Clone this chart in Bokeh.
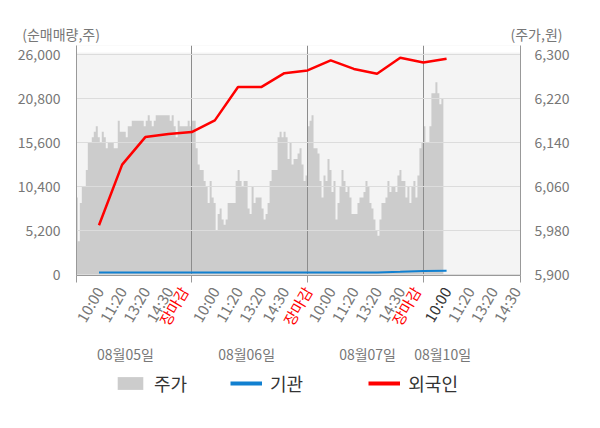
import numpy as np
from bokeh.plotting import figure
from bokeh.models import (Range1d, LinearAxis, FixedTicker, NumeralTickFormatter,
                          ColumnDataSource, LabelSet, Label, Legend, LegendItem,
                          BoxAnnotation, CustomJSTickFormatter)
from bokeh.embed import file_html
from bokeh.resources import INLINE
from bokeh.core.properties import value

FONT = "Noto Sans CJK KR"

# ---- data ----
price_day1 = [6040, 5960, 6030, 6060, 6060, 6090, 6140, 6140, 6150, 6160,
              6170, 6150, 6140, 6160, 6150, 6130, 6140, 6140, 6140, 6130,
              6130, 6180, 6160, 6160, 6160, 6150, 6170, 6170, 6180, 6180,
              6180, 6180, 6180, 6180, 6170, 6180, 6190, 6180, 6170, 6180,
              6190, 6190, 6190, 6190, 6190, 6190, 6190, 6180, 6190, 6170,
              6150, 6180, 6170, 6170, 6170, 6170, 6180, 6170]
price_day2 = [6180, 6180, 6130, 6100, 6090, 6090, 6070, 6060, 6030, 6070,
              6040, 6030, 5980, 6010, 6020, 6000, 5990, 6000, 6030, 6030,
              6030, 6030, 6070, 6090, 6070, 6060, 6070, 6070, 6020, 6010,
              6060, 6030, 6040, 6040, 6040, 6020, 6000, 6010, 6030, 6070,
              6090, 6090, 6090, 6150, 6160, 6150, 6160, 6150, 6110, 6140,
              6100, 6110, 6110, 6120, 6130, 6100, 6070, 6080]
price_day3 = [6170, 6180, 6190, 6130, 6130, 6120, 6070, 6040, 6080, 6070,
              6110, 6090, 6050, 6070, 6000, 6030, 6060, 6090, 6070, 6050,
              6060, 6040, 6010, 6010, 6010, 6030, 6040, 6040, 6050, 6070,
              6060, 6030, 6020, 6000, 5980, 5970, 6000, 6030, 6030, 6040,
              6070, 6050, 6060, 6060, 6050, 6080, 6090, 6070, 6070, 6040,
              6060, 6030, 6060, 6070, 6040, 6080, 6130, 6140]
price_day4 = [6170, 6140, 6140, 6170, 6230, 6230, 6250, 6230, 6210, 6220, 6220]
SAMPLES_PER_DAY = 58
SLOTS_PER_DAY = 5

foreign = [5800, 13000, 16260, 16620, 16850, 18240, 22190, 22190, 23840, 24160,
           25350, 24340, 23770, 25670, 25110, 25550]
institution = [200, 200, 200, 200, 200, 200, 200, 200, 200, 200,
               200, 200, 200, 280, 380, 400]

time_labels = ["10:00", "11:20", "13:20", "14:30", "장마감",
               "10:00", "11:20", "13:20", "14:30", "장마감",
               "10:00", "11:20", "13:20", "14:30", "장마감",
               "10:00", "11:20", "13:20", "14:30"]
day_labels = ["08월05일", "08월06일", "08월07일", "08월10일"]
left_ticks = [0, 5200, 10400, 15600, 20800, 26000]
right_ticks = [5900, 5980, 6060, 6140, 6220, 6300]

# ---- layout constants ----
W = 600
TOP_H, MAIN_H, BOT_H = 45, 238, 145
BORDER_L, BORDER_R, BORDER_B = 76, 80, 8
X_START, X_END = 0.03, 19.19
FRAME_W = W - BORDER_L - BORDER_R
SLOT_PX = FRAME_W / (X_END - X_START)
ORIGIN_PX = BORDER_L - X_START * SLOT_PX
day_label_pos = [2.14, 7.37, 12.59, 15.83]
close_label_shift = [-0.34, 0.01, -0.31]
GRAY_TXT = "#777777"
BLUE = "#1180d0"
RED = "#ff0000"

# ---- top strip with axis titles ----
top = figure(width=W, height=TOP_H, output_backend="svg", toolbar_location=None,
             x_axis_type=None, y_axis_type=None, min_border=0,
             x_range=Range1d(0, W), y_range=Range1d(0, TOP_H))
top.outline_line_color = None
top.grid.visible = False
top.add_layout(Label(x=21.7, y=11.7, x_units="screen", y_units="screen",
                     text="(순매매량,주)", text_align="left", text_baseline="middle",
                     text_color=GRAY_TXT, text_font=FONT, text_font_size="14px"))
top.add_layout(Label(x=562, y=11.7, x_units="screen", y_units="screen",
                     text="(주가,원)", text_align="right", text_baseline="middle",
                     text_color=GRAY_TXT, text_font=FONT, text_font_size="14px"))

# ---- main chart ----
px, py = [], []
for d, day in enumerate([price_day1, price_day2, price_day3, price_day4]):
    for i, v in enumerate(day):
        px.append(d * SLOTS_PER_DAY + i * SLOTS_PER_DAY / SAMPLES_PER_DAY)
        py.append(v)
price_src = ColumnDataSource(dict(x=px, price=py))

line_x = list(range(1, len(foreign) + 1))
flow_src = ColumnDataSource(dict(x=line_x, foreign=foreign, inst=institution))

p = figure(width=W, height=MAIN_H, output_backend="svg", toolbar_location=None,
           x_range=Range1d(X_START, X_END), y_range=Range1d(-154, 27121),
           min_border_left=BORDER_L, min_border_right=BORDER_R, min_border_top=0,
           min_border_bottom=BORDER_B)
p.extra_y_ranges = {"price": Range1d(5897.63, 6317.24)}
p.background_fill_color = "#f4f4f4"
p.border_fill_color = "white"
p.outline_line_color = None

p.add_layout(BoxAnnotation(bottom=26290, fill_color="white", fill_alpha=1,
                           line_alpha=0, level="image"))

p.xaxis.ticker = FixedTicker(ticks=[X_START, 5, 10, 15, X_END])
p.xaxis.formatter = CustomJSTickFormatter(code="return ''")
p.xaxis.major_label_standoff = 0
p.xaxis.major_tick_out = 7
p.xaxis.major_tick_in = 0
p.xaxis.minor_tick_line_color = None
p.xaxis.axis_line_color = "#999999"
p.xaxis.major_tick_line_color = "#999999"

p.yaxis.ticker = FixedTicker(ticks=left_ticks)
p.yaxis.formatter = NumeralTickFormatter(format="0,0")
p.yaxis.major_tick_line_color = None
p.yaxis.minor_tick_line_color = None
p.yaxis.major_label_standoff = 10
p.yaxis.axis_line_color = "#999999"
p.yaxis.major_label_text_font = FONT
p.yaxis.major_label_text_font_size = "14px"
p.yaxis.major_label_text_color = GRAY_TXT

ra = LinearAxis(y_range_name="price", ticker=FixedTicker(ticks=right_ticks),
                formatter=NumeralTickFormatter(format="0,0"))
ra.major_tick_line_color = None
ra.minor_tick_line_color = None
ra.major_label_standoff = 8
ra.axis_line_color = "#999999"
ra.major_label_text_font = FONT
ra.major_label_text_font_size = "14px"
ra.major_label_text_color = GRAY_TXT
p.add_layout(ra, "right")

p.ygrid.ticker = FixedTicker(ticks=left_ticks)
p.ygrid.grid_line_color = "#dcdcdc"
p.ygrid.level = "underlay"
p.xgrid.ticker = FixedTicker(ticks=[5, 10, 15])
p.xgrid.grid_line_color = "#8c8c8c"
p.xgrid.level = "underlay"

p.varea_step(x="x", y1=5880, y2="price", source=price_src, step_mode="after",
             fill_color="#cccccc", y_range_name="price", level="image")

p.line("x", "inst", source=flow_src, line_color=BLUE, line_width=2)
p.line("x", "foreign", source=flow_src, line_color=RED, line_width=2.5)

# ---- bottom strip: time labels, dates, legend ----
bx0 = -ORIGIN_PX / SLOT_PX
bx1 = (W - ORIGIN_PX) / SLOT_PX
bot = figure(width=W, height=BOT_H, output_backend="svg", toolbar_location=None,
             x_axis_type=None, y_axis_type=None, min_border=0,
             x_range=Range1d(bx0, bx1), y_range=Range1d(0, BOT_H))
bot.outline_line_color = None
bot.grid.visible = False

colors, lx = [], []
close_i = 0
for i, t in enumerate(time_labels):
    pos = i + 1
    if t == "장마감":
        colors.append(RED)
        pos += close_label_shift[close_i]
        close_i += 1
    elif i + 1 == len(foreign):
        colors.append("#333333")
    else:
        colors.append(GRAY_TXT)
    lx.append(pos)
lab_src = ColumnDataSource(dict(x=lx, text=time_labels, color=colors))
bot.add_layout(LabelSet(x="x", y=140.5, y_units="screen", text="text", source=lab_src,
                        angle=np.pi / 3, text_align="right", text_baseline="middle",
                        text_color="color", text_font=value(FONT),
                        text_font_size="15px"))

day_src = ColumnDataSource(dict(x=day_label_pos, text=day_labels))
bot.add_layout(LabelSet(x="x", y=74.7, y_units="screen", text="text", source=day_src,
                        text_align="center", text_baseline="middle",
                        text_color=GRAY_TXT, text_font=value(FONT),
                        text_font_size="14px"))

# legend-only renderers (kept outside the visible range)
hx = [bx0 - 2, bx0 - 1]
leg_area = bot.varea(x=hx, y1=[-20, -20], y2=[-10, -10], fill_color="#cccccc")
leg_inst = bot.line(x=hx, y=[-10, -10], line_color=BLUE, line_width=4)
leg_for = bot.line(x=hx, y=[-10, -10], line_color=RED, line_width=4)
for label, rend, vx in [("주가", leg_area, 114), ("기관", leg_inst, 230),
                        ("외국인", leg_for, 368.3)]:
    leg = Legend(items=[LegendItem(label=label, renderers=[rend])],
                 location=(vx, 32), orientation="horizontal", padding=0,
                 margin=0, spacing=0, glyph_width=32, glyph_height=16,
                 label_standoff=8, label_text_font=FONT,
                 label_text_font_size="18px", label_text_color="#333333",
                 border_line_alpha=0, background_fill_alpha=0)
    bot.add_layout(leg)

open("out.html", "w").write(file_html([top, p, bot], INLINE))
